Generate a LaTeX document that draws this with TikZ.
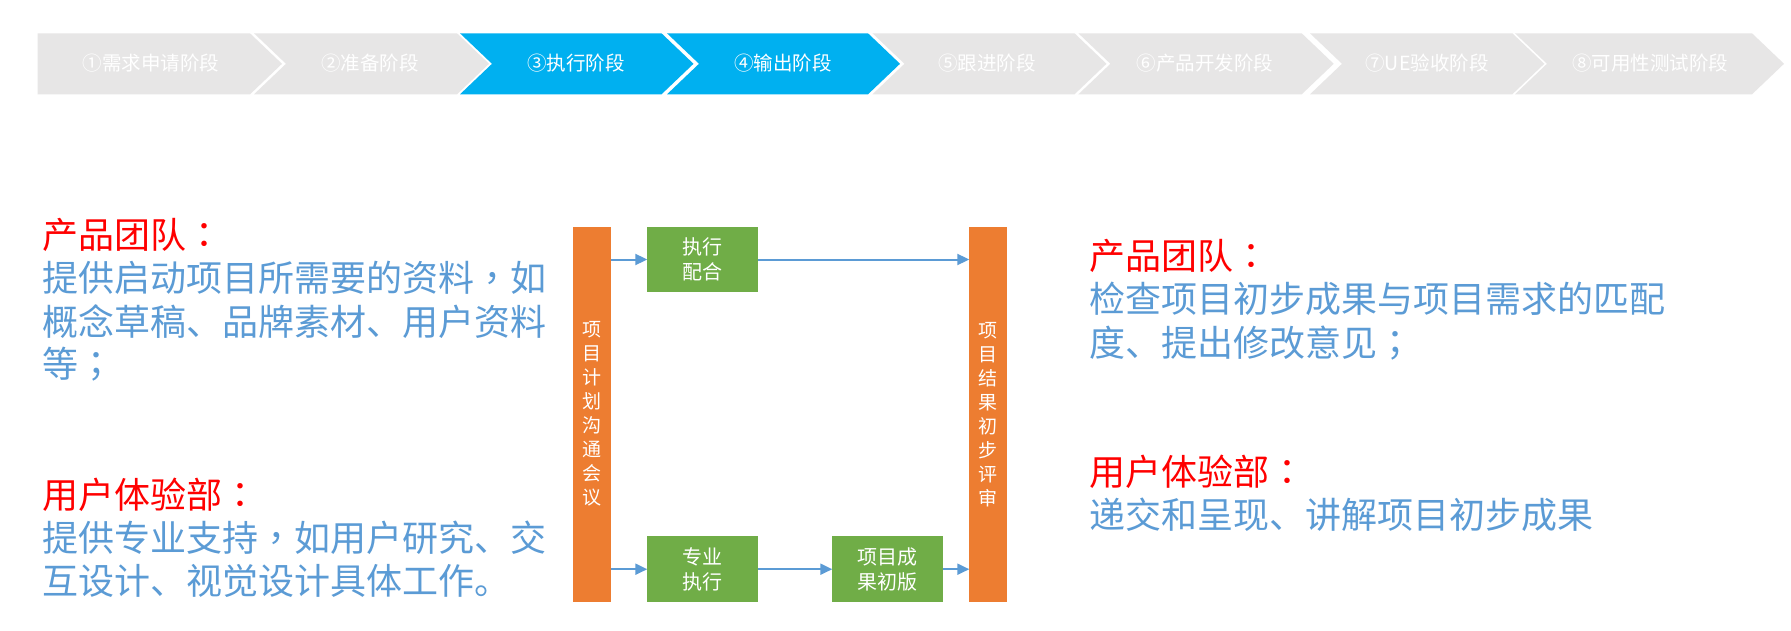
\documentclass[tikz,border=0pt]{standalone}
\usepackage{fontspec}
\setmainfont{Noto Sans CJK SC}
\newfontfamily\tcfont{Noto Sans CJK TC}
\newcommand\tpunct[1]{{\tcfont #1}}
\usetikzlibrary{arrows.meta}
\definecolor{chgrey}{HTML}{E7E6E6}
\definecolor{chblue}{HTML}{00B0F0}
\definecolor{barorange}{HTML}{ED7D31}
\definecolor{boxgreen}{HTML}{70AD47}
\definecolor{arrblue}{HTML}{5B9BD5}
\definecolor{headred}{HTML}{FF0000}
\definecolor{bodyblue}{HTML}{5B9BD5}
\newcommand\stagechev[3]{%
  \fill[#1] (#2,33.3) -- (#3,33.3) -- ({#3+32},63.8) -- (#3,94.3) -- (#2,94.3) -- ({#2+32},63.8) -- cycle;}
\tikzset{
  chevtext/.style={text=white, font=\fontsize{19.5}{20}\selectfont, anchor=base, inner sep=0pt},
  vbar/.style={fill=barorange, minimum width=37.4pt, minimum height=375pt, inner sep=0pt, outer sep=0pt,
    text=white, align=center, font=\fontsize{19}{24}\selectfont},
  gbox/.style={fill=boxgreen, minimum width=110.4pt, minimum height=65.5pt, inner sep=0pt, outer sep=0pt,
    text=white, align=center, font=\fontsize{20}{25}\selectfont},
  flow/.style={draw=arrblue, line width=2pt, -{Triangle[length=12pt,width=11pt]}},
  headtxt/.style={text=headred, font=\fontsize{36}{43}\selectfont, anchor=base west, inner sep=0pt},
  bodytxt/.style={text=bodyblue, font=\fontsize{36}{43}\selectfont, anchor=base west, inner sep=0pt},
}
\begin{document}
\begin{tikzpicture}[x=1pt,y=-1pt]
\useasboundingbox[fill=white] (0,0) rectangle (1791,631);
% stage chevrons
\fill[chgrey] (37.7,33.3) -- (250,33.3) -- (282,63.8) -- (250,94.3) -- (37.7,94.3) -- cycle;
\stagechev{chgrey}{254}{457}
\stagechev{chblue}{460}{661.5}
\stagechev{chblue}{667}{868}
\stagechev{chgrey}{872.5}{1074.5}
\stagechev{chgrey}{1078.4}{1301.7}
\stagechev{chgrey}{1310}{1512.3}
\stagechev{chgrey}{1515}{1752}
\node[chevtext] (s1) at (151,70.7) {①需求申请阶段};
\node[chevtext] (s2) at (370,70.7) {②准备阶段};
\node[chevtext] (s3) at (576,70.7) {③执行阶段};
\node[chevtext] (s4) at (783,70.7) {④输出阶段};
\node[chevtext] (s5) at (987,70.7) {⑤跟进阶段};
\node[chevtext] (s6) at (1205,70.7) {⑥产品开发阶段};
\node[chevtext] (s7) at (1427,70.7) {⑦UE验收阶段};
\node[chevtext] (s8) at (1650,70.7) {⑧可用性测试阶段};
% left texts
\node[headtxt] (lh1) at (42,248.5) {产品团队\tpunct{：}};
\node[bodytxt] (lb1) at (42,291.5) {提供启动项目所需要的资料\tpunct{，}如};
\node[bodytxt] (lb2) at (42,335) {概念草稿、品牌素材、用户资料};
\node[bodytxt] (lb3) at (42,377) {等\tpunct{；}};
\node[headtxt] (lh2) at (42,508.7) {用户体验部\tpunct{：}};
\node[bodytxt] (lb4) at (42,551.2) {提供专业支持\tpunct{，}如用户研究、交};
\node[bodytxt] (lb5) at (42,594.7) {互设计、视觉设计具体工作。};
% right texts
\node[headtxt] (rh1) at (1089,269.7) {产品团队\tpunct{：}};
\node[bodytxt] (rb1) at (1089,312.7) {检查项目初步成果与项目需求的匹配};
\node[bodytxt] (rb2) at (1089,356.2) {度、提出修改意见\tpunct{；}};
\node[headtxt] (rh2) at (1089,485.2) {用户体验部\tpunct{：}};
\node[bodytxt] (rb3) at (1089,528.7) {递交和呈现、讲解项目初步成果};
% flow diagram
\node[vbar] (plan) at (592,414.2) {项\\目\\计\\划\\沟\\通\\会\\议};
\node[vbar] (review) at (988,414.2) {项\\目\\结\\果\\初\\步\\评\\审};
\node[gbox] (exec) at (702.5,259.5) {执行\\配合};
\node[gbox] (pro) at (702.5,569.2) {专业\\执行};
\node[gbox] (first) at (887.5,569.2) {项目成\\果初版};
\draw[flow] (plan.east |- exec.west) -- (exec.west);
\draw[flow] (exec.east) -- (review.west |- exec.east);
\draw[flow] (plan.east |- pro.west) -- (pro.west);
\draw[flow] (pro.east) -- (first.west);
\draw[flow] (first.east) -- (review.west |- first.east);
\end{tikzpicture}
\end{document}
